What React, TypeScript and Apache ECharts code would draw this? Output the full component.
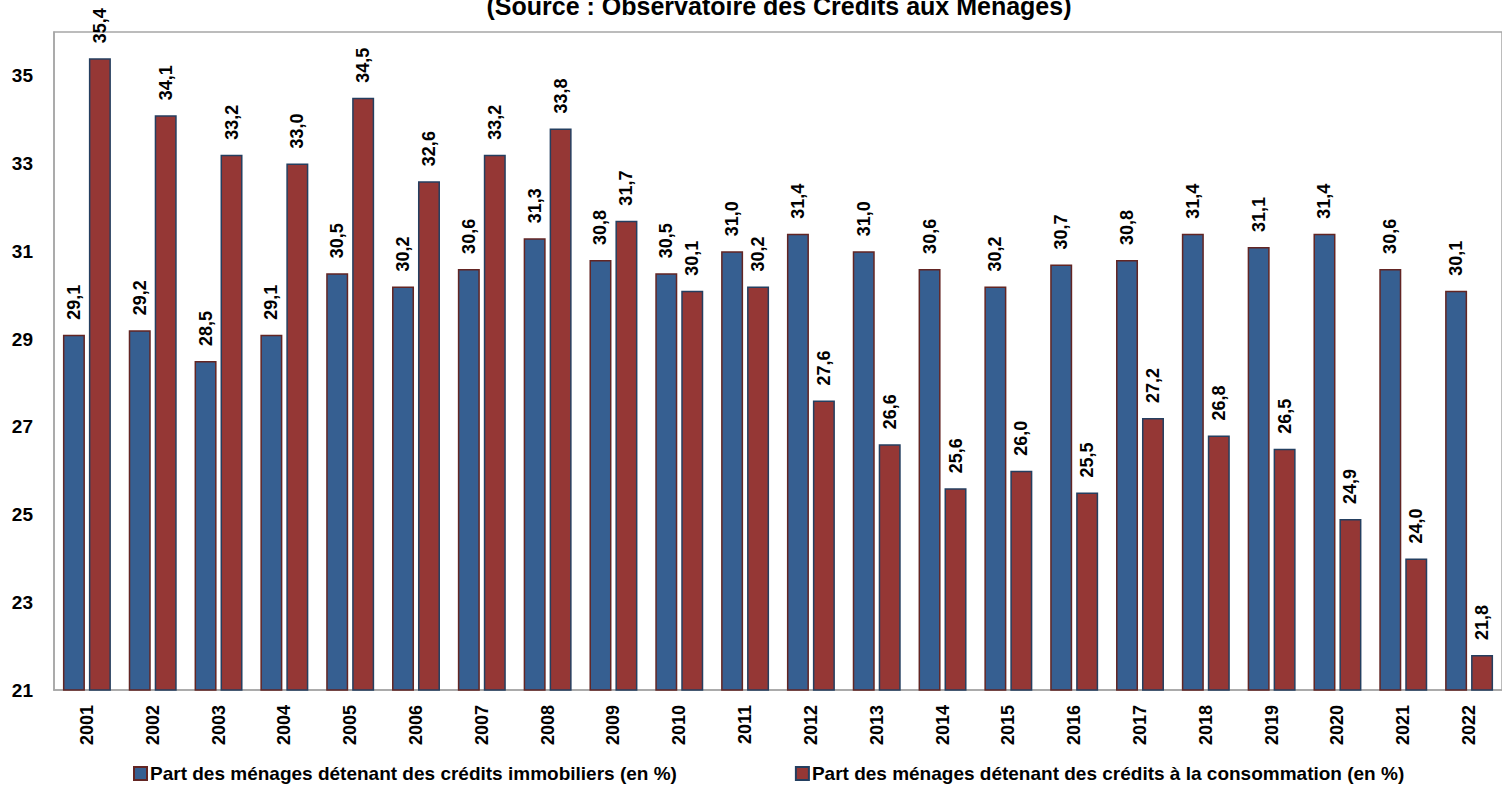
import React, { useEffect, useRef } from "react";
import * as echarts from "echarts";

const years = [
  "2001", "2002", "2003", "2004", "2005", "2006", "2007", "2008", "2009", "2010", "2011",
  "2012", "2013", "2014", "2015", "2016", "2017", "2018", "2019", "2020", "2021", "2022",
];

const immobiliers = [
  29.1, 29.2, 28.5, 29.1, 30.5, 30.2, 30.6, 31.3, 30.8, 30.5, 31.0,
  31.4, 31.0, 30.6, 30.2, 30.7, 30.8, 31.4, 31.1, 31.4, 30.6, 30.1,
];

const consommation = [
  35.4, 34.1, 33.2, 33.0, 34.5, 32.6, 33.2, 33.8, 31.7, 30.1, 30.2,
  27.6, 26.6, 25.6, 26.0, 25.5, 27.2, 26.8, 26.5, 24.9, 24.0, 21.8,
];

const seriesNames = [
  "Part des ménages détenant des crédits immobiliers (en %)",
  "Part des ménages détenant des crédits à la consommation (en %)",
];

const titleText = "(Source : Observatoire des Crédits aux Ménages)";

const FONT = "'Liberation Sans', Arial, Helvetica, sans-serif";

const fmt = (v: number) => v.toFixed(1).replace(".", ",");

export default function App() {
  const ref = useRef<HTMLDivElement>(null);

  useEffect(() => {
    if (!ref.current) return;
    const chart = echarts.init(ref.current, undefined, { renderer: "svg" });

    const labelStyle = {
      show: true,
      position: "top" as const,
      rotate: 90,
      align: "left" as const,
      verticalAlign: "middle" as const,
      distance: 15,
      color: "#000",
      fontFamily: FONT,
      fontWeight: "bold" as const,
      fontSize: 18,
      formatter: (p: any) => fmt(p.value),
    };

    chart.setOption({
      animation: false,
      backgroundColor: "#fff",
      title: {
        text: titleText,
        left: 774,
        textAlign: "center",
        top: -12,
        textStyle: {
          fontFamily: FONT,
          fontWeight: "bold",
          fontSize: 25,
          color: "#000",
        },
      },
      grid: {
        left: 54,
        top: 32,
        width: 1454,
        bottom: 106,
        show: true,
        borderColor: "#a6a6a6",
        borderWidth: 1.5,
        backgroundColor: "#fff",
      },
      legend: {
        bottom: 8,
        left: 128,
        width: 1400,
        icon: "rect",
        itemWidth: 13,
        itemHeight: 13,
        itemGap: 118,
        textStyle: {
          fontFamily: FONT,
          fontWeight: "bold",
          fontSize: 19,
          color: "#000",
          padding: [0, 0, 0, -2],
        },
        data: seriesNames,
      },
      xAxis: {
        type: "category",
        data: years,
        axisLine: { show: true, lineStyle: { color: "#a6a6a6", width: 1.5 } },
        axisTick: { show: false },
        axisLabel: {
          rotate: 90,
          margin: 15,
          color: "#000",
          fontFamily: FONT,
          fontWeight: "bold",
          fontSize: 18,
        },
      },
      yAxis: {
        type: "value",
        min: 21,
        max: 36,
        interval: 1,
        axisLine: { show: true, lineStyle: { color: "#a6a6a6", width: 1.5 } },
        axisTick: { show: false },
        splitLine: { show: false },
        axisLabel: {
          margin: 21,
          color: "#000",
          fontFamily: FONT,
          fontWeight: "bold",
          fontSize: 19,
          formatter: (v: number) => (v % 2 === 1 && v < 36 ? String(v) : ""),
        },
      },
      series: [
        {
          name: seriesNames[0],
          type: "bar",
          data: immobiliers,
          barWidth: 22,
          barGap: "18%",
          itemStyle: { color: "#365F91", borderColor: "#632523", borderWidth: 1.5 },
          label: labelStyle,
        },
        {
          name: seriesNames[1],
          type: "bar",
          data: consommation,
          barWidth: 22,
          itemStyle: { color: "#953735", borderColor: "#243F60", borderWidth: 1.5 },
          label: labelStyle,
        },
      ],
    });

    return () => chart.dispose();
  }, []);

  return (
    <div
      ref={ref}
      style={{ position: "absolute", left: 0, top: 0, width: 1502, height: 796 }}
    />
  );
}
